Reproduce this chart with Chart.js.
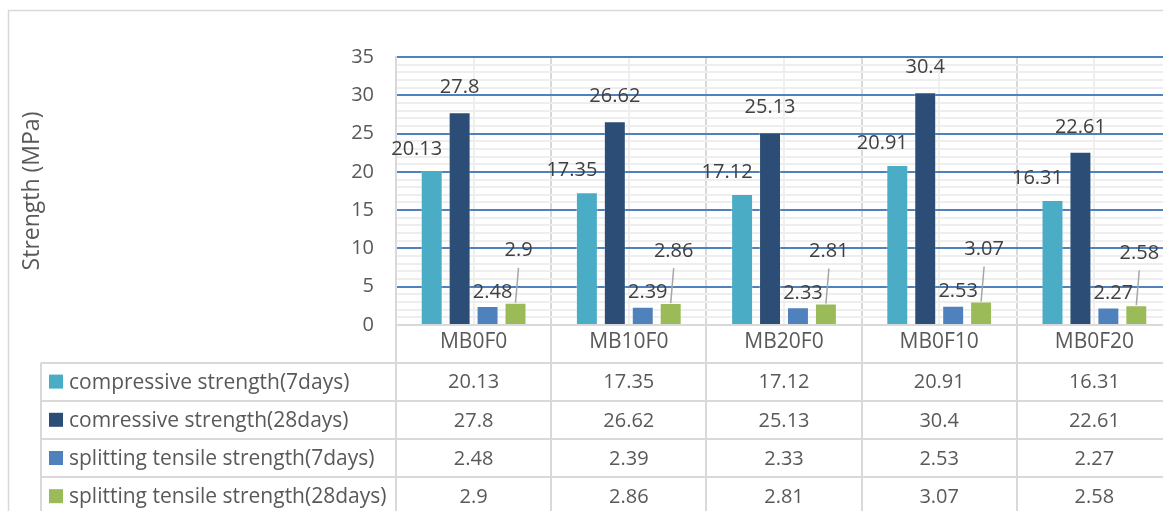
<!DOCTYPE html>
<html>
<head>
<meta charset="utf-8">
<script src="https://cdn.jsdelivr.net/npm/chart.js@4/dist/chart.umd.min.js"></script>
<style>
  html, body { margin: 0; padding: 0; background: #fff; overflow: hidden; }
  #wrap { position: relative; width: 1172px; height: 511px; }
</style>
</head>
<body>
<div id="wrap"><canvas id="c" width="1172" height="511"></canvas></div>
<script>
// Mix designs and measured strengths (MPa)
const categories = ['MB0F0', 'MB10F0', 'MB20F0', 'MB0F10', 'MB0F20'];
const seriesNames = [
  'compressive strength(7days)',
  'comressive strength(28days)',
  'splitting tensile strength(7days)',
  'splitting tensile strength(28days)'
];
const compressive7 = [20.13, 17.35, 17.12, 20.91, 16.31];
const compressive28 = [27.8, 26.62, 25.13, 30.4, 22.61];
const tensile7 = [2.48, 2.39, 2.33, 2.53, 2.27];
const tensile28 = [2.9, 2.86, 2.81, 3.07, 2.58];
const yTickLabels = [0, 5, 10, 15, 20, 25, 30, 35];

const FONT = '"Open Sans", "Noto Sans", sans-serif';
const TEXT = '#595959';
const LINE = '#d9d9d9';

// Outer frame of the chart object
const frame = {
  id: 'frame',
  beforeDraw(chart) {
    const ctx = chart.ctx, a = chart.chartArea, xs = chart.scales.x;
    ctx.save();
    ctx.strokeStyle = LINE;
    ctx.lineWidth = 1.5;
    ctx.beginPath();
    ctx.moveTo(8.5, chart.height + 5);
    ctx.lineTo(8.5, 10.5);
    ctx.lineTo(chart.width + 5, 10.5);
    ctx.stroke();
    // light vertical lines through the middle of each category
    ctx.strokeStyle = '#efefef';
    ctx.lineWidth = 2;
    categories.forEach((c, i) => {
      const x = Math.round(xs.getPixelForValue(i));
      ctx.beginPath();
      ctx.moveTo(x, a.top);
      ctx.lineTo(x, a.bottom);
      ctx.stroke();
    });
    ctx.restore();
  }
};

// Value labels above the bars (tensile 28-day labels use leader lines)
const valueLabels = {
  id: 'valueLabels',
  afterDatasetsDraw(chart) {
    const ctx = chart.ctx;
    ctx.save();
    ctx.font = '20px ' + FONT;
    ctx.textAlign = 'center';
    ctx.textBaseline = 'middle';
    chart.data.datasets.forEach((ds, i) => {
      const meta = chart.getDatasetMeta(i);
      const o = ds.labelOffset;
      meta.data.forEach((bar, j) => {
        const x = bar.x + o.dx, y = bar.y + o.dy;
        if (o.leader) {
          ctx.strokeStyle = '#a6a6a6';
          ctx.lineWidth = 1.5;
          ctx.beginPath();
          ctx.moveTo(x, y + 17);
          ctx.lineTo(bar.x, bar.y);
          ctx.stroke();
        }
        ctx.fillStyle = '#404040';
        ctx.fillText(String(ds.data[j]), x, y);
      });
    });
    ctx.restore();
  }
};

// Data table under the category axis
const dataTable = {
  id: 'dataTable',
  afterDraw(chart) {
    const ctx = chart.ctx, a = chart.chartArea, xs = chart.scales.x;
    const half = (xs.getPixelForValue(1) - xs.getPixelForValue(0)) / 2;
    const left = 41, top = a.bottom + 37.5, rowH = 38.2;
    ctx.save();
    ctx.strokeStyle = LINE;
    ctx.lineWidth = 2;
    // category boundaries running down through the table
    for (let i = 0; i <= categories.length; i++) {
      const x = Math.round(xs.getPixelForValue(0) - half + i * 2 * half);
      ctx.beginPath();
      ctx.moveTo(x, a.bottom);
      ctx.lineTo(x, chart.height);
      ctx.stroke();
    }
    ctx.beginPath();
    ctx.moveTo(left, top);
    ctx.lineTo(left, chart.height);
    ctx.stroke();
    for (let r = 0; r <= seriesNames.length; r++) {
      const y = Math.round(top + r * rowH);
      ctx.beginPath();
      ctx.moveTo(left, y);
      ctx.lineTo(chart.width, y);
      ctx.stroke();
    }
    ctx.textBaseline = 'middle';
    chart.data.datasets.forEach((ds, r) => {
      const cy = top + r * rowH + rowH / 2;
      ctx.fillStyle = ds.backgroundColor;
      ctx.fillRect(49, cy - 7, 14, 14);
      ctx.fillStyle = TEXT;
      ctx.font = '21px ' + FONT;
      ctx.textAlign = 'left';
      ctx.fillText(seriesNames[r], 69, cy + 1);
      ctx.font = '20px ' + FONT;
      ctx.textAlign = 'center';
      ds.data.forEach((v, j) => {
        ctx.fillText(String(v), xs.getPixelForValue(j), cy + 1);
      });
    });
    ctx.restore();
  }
};

const colors = ['#4BACC6', '#2C4D75', '#4F81BD', '#9BBB59'];
const offsets = [
  { dx: -15, dy: -22 },
  { dx: 0, dy: -25 },
  { dx: 5, dy: -14 },
  { dx: 3, dy: -52, leader: true }
];
const values = [compressive7, compressive28, tensile7, tensile28];

function build() {
  new Chart(document.getElementById('c'), {
    type: 'bar',
    data: {
      labels: categories,
      datasets: values.map((d, i) => ({
        label: seriesNames[i],
        data: d,
        backgroundColor: colors[i],
        borderColor: 'rgba(255,255,255,0.25)',
        borderWidth: 1,
        categoryPercentage: 0.72,
        barPercentage: 0.786,
        labelOffset: offsets[i]
      }))
    },
    options: {
      responsive: false,
      animation: false,
      devicePixelRatio: 1,
      layout: { padding: { top: 57, right: 0, bottom: 0, left: 0 } },
      plugins: { legend: { display: false }, tooltip: { enabled: false } },
      scales: {
        x: {
          grid: { offset: true, color: LINE, lineWidth: 2, drawTicks: false },
          border: { color: LINE, width: 2 },
          ticks: { color: TEXT, font: { family: FONT, size: 21 }, padding: 4 },
          afterFit(s) { s.height = 186; }
        },
        y: {
          min: 0,
          max: 35,
          ticks: {
            stepSize: 1,
            autoSkip: false,
            color: TEXT,
            font: { family: FONT, size: 20 },
            padding: 22,
            callback: (v) => (yTickLabels.includes(v) ? String(v) : '')
          },
          grid: {
            drawTicks: false,
            color: (c) => (c.tick.value === 0 ? LINE : (c.tick.value % 5 === 0 ? '#4F81BD' : '#eeeeee')),
            lineWidth: 2
          },
          border: { color: LINE, width: 2 },
          title: {
            display: true,
            text: 'Strength (MPa)',
            color: TEXT,
            font: { family: FONT, size: 23 },
            padding: { top: 19, bottom: 0 }
          },
          afterFit(s) { s.width = 396; }
        }
      }
    },
    plugins: [frame, valueLabels, dataTable]
  });
}

if (document.fonts && document.fonts.load) {
  Promise.all([document.fonts.load('20px "Open Sans"'), document.fonts.load('23px "Open Sans"')])
    .then(build, build);
} else {
  build();
}
</script>
</body>
</html>
